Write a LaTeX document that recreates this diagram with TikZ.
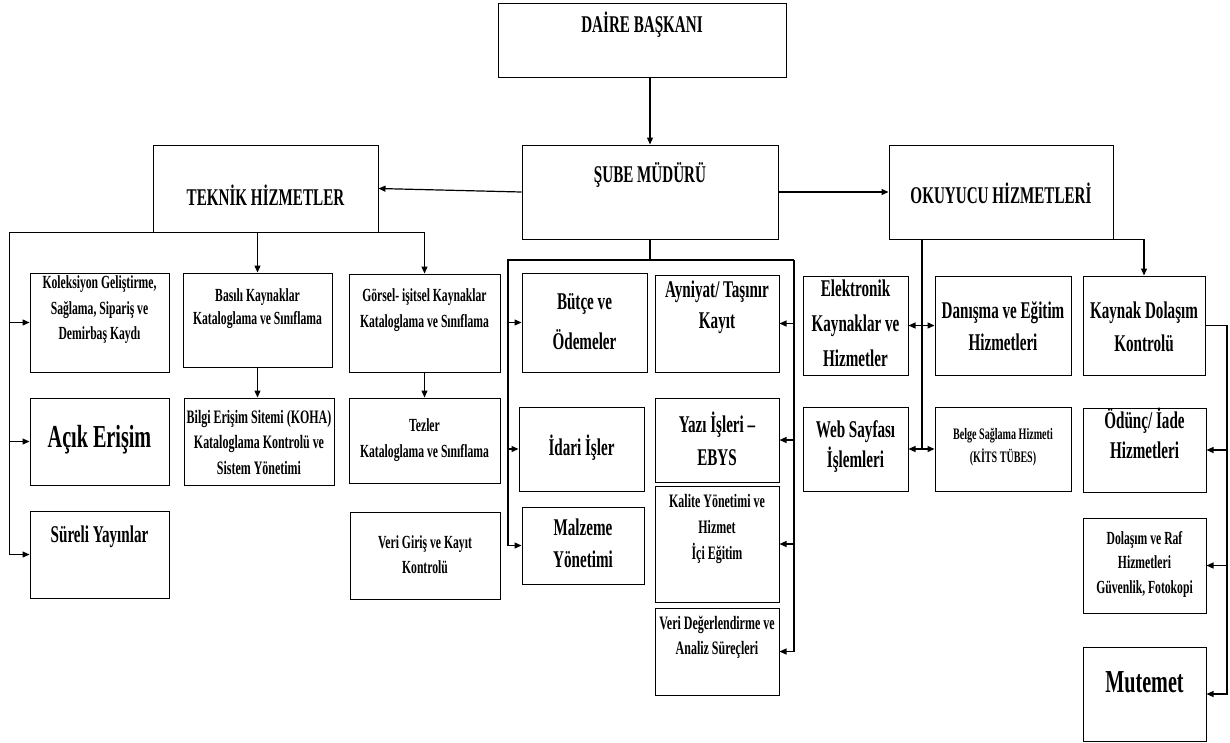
\documentclass[tikz,border=0pt]{standalone}
\usepackage{fontspec}
\usetikzlibrary{arrows.meta}
\newfontfamily\tb{Liberation Serif}[FakeStretch=0.63,BoldFeatures={FakeStretch=0.63}]
\newcommand\fsz[2]{\tb\bfseries\fontsize{#1}{#2}\selectfont}
\newcommand\bx[5]{\node[box,minimum width={(#4-#2)*1pt},minimum height={(#5-#3)*1pt}] (#1) at ({(#2+#4)/2},{(#3+#5)/2}) {};}
\tikzset{
  box/.style={draw=black,line width=1pt,inner sep=0pt,fill=white},
  txt/.style={align=center,inner sep=0pt,text=black},
  ln/.style={draw=black,line width=1.2pt},
  arr/.style={ln,-{Triangle[length=7pt,width=6pt]}},
  darr/.style={ln,{Triangle[length=7pt,width=6pt]}-{Triangle[length=7pt,width=6pt]}}
}
\begin{document}
\begin{tikzpicture}[x=1pt,y=-1pt]
\useasboundingbox[fill=white] (0,0) rectangle (1230,742);
% boxes
\bx{daire}{498}{3}{786}{77}
\bx{sube}{522}{145}{778}{239}
\bx{teknik}{153}{145}{378}{232}
\bx{okuyucu}{889}{145}{1113}{239}
\bx{kol}{30}{273}{169}{372}
\bx{acik}{30}{398}{169}{485}
\bx{sureli}{30}{511}{169}{598}
\bx{basili}{183}{273}{332}{367}
\bx{bilgi}{184}{398}{334}{485}
\bx{gorsel}{349}{274}{500}{372}
\bx{tezler}{349}{398}{500}{483}
\bx{verigiris}{350}{512}{500}{599}
\bx{butce}{522}{273}{647}{372}
\bx{ayniyat}{655}{275}{779}{372}
\bx{idari}{519}{407}{644}{491}
\bx{malzeme}{522}{507}{644}{584}
\bx{yazi}{655}{398}{779}{482}
\bx{kalite}{655}{486}{779}{602}
\bx{veridegr}{655}{608}{779}{695}
\bx{elektronik}{803}{276}{908}{375}
\bx{danisma}{935}{276}{1071}{375}
\bx{kaynak}{1083}{276}{1205}{375}
\bx{web}{803}{407}{908}{491}
\bx{belge}{935}{407}{1071}{491}
\bx{odunc}{1083}{408}{1206}{492}
\bx{dolasim}{1083}{518}{1206}{613}
\bx{mutemet}{1083}{647}{1206}{741}
% texts
\node[txt,font=\fsz{24}{30}] (t-daire) at (642,25) {DAİRE BAŞKANI};
\node[txt,font=\fsz{24}{30}] (t-sube) at (650,175) {ŞUBE MÜDÜRÜ};
\node[txt,font=\fsz{24}{30}] (t-teknik) at (265.5,195) {TEKNİK HİZMETLER};
\node[txt,font=\fsz{24}{30}] (t-okuyucu) at (1001,193) {OKUYUCU HİZMETLERİ};
\node[txt,font=\fsz{18.5}{25.5}] (t-kol) at (99.5,310) {Koleksiyon Geliştirme,\\Sağlama, Sipariş ve\\Demirbaş Kaydı};
\node[txt,font=\fsz{32}{34}] (t-acik) at (99.5,440) {Açık Erişim};
\node[txt,font=\fsz{24}{30}] (t-sureli) at (99.5,537) {Süreli Yayınlar};
\node[txt,font=\fsz{18.5}{23.5}] (t-basili) at (257.5,308.5) {Basılı Kaynaklar\\Kataloglama ve Sınıflama};
\node[txt,font=\fsz{19}{25.5}] (t-bilgi) at (259,442) {Bilgi Erişim Sitemi (KOHA)\\Kataloglama Kontrolü ve\\Sistem Yönetimi};
\node[txt,font=\fsz{18.5}{26}] (t-gorsel) at (424.5,310) {Görsel- işitsel Kaynaklar\\Kataloglama ve Sınıflama};
\node[txt,font=\fsz{18.5}{26}] (t-tezler) at (424.5,440) {Tezler\\Kataloglama ve Sınıflama};
\node[txt,font=\fsz{18.5}{25}] (t-verigiris) at (425,554.5) {Veri Giriş ve Kayıt\\Kontrolü};
\node[txt,font=\fsz{24}{40}] (t-butce) at (584.5,322) {Bütçe ve\\Ödemeler};
\node[txt,font=\fsz{24}{31}] (t-ayniyat) at (717,307.5) {Ayniyat/ Taşınır\\Kayıt};
\node[txt,font=\fsz{24}{30}] (t-idari) at (581.5,448) {İdari İşler};
\node[txt,font=\fsz{24}{32}] (t-malzeme) at (583,543) {Malzeme\\Yönetimi};
\node[txt,font=\fsz{24}{33}] (t-yazi) at (717,438.5) {Yazı İşleri –\\EBYS};
\node[txt,font=\fsz{19}{26}] (t-kalite) at (717,529) {Kalite Yönetimi ve\\Hizmet\\İçi Eğitim};
\node[txt,font=\fsz{19}{25}] (t-veridegr) at (717,637.5) {Veri Değerlendirme ve\\Analiz Süreçleri};
\node[txt,font=\fsz{24}{35}] (t-elektronik) at (855.5,323) {Elektronik\\Kaynaklar ve\\Hizmetler};
\node[txt,font=\fsz{24}{32}] (t-danisma) at (1003,326) {Danışma ve Eğitim\\Hizmetleri};
\node[txt,font=\fsz{24}{33}] (t-kaynak) at (1144,326.5) {Kaynak Dolaşım\\Kontrolü};
\node[txt,font=\fsz{24}{30}] (t-web) at (855.5,447) {Web Sayfası\\İşlemleri};
\node[txt,font=\fsz{16}{23}] (t-belge) at (1003,447.5) {Belge Sağlama Hizmeti\\(KİTS TÜBES)};
\node[txt,font=\fsz{24}{30}] (t-odunc) at (1144.5,433) {Ödünç/ İade\\Hizmetleri};
\node[txt,font=\fsz{18.5}{24.5}] (t-dolasim) at (1144.5,564) {Dolaşım ve Raf\\Hizmetleri\\Güvenlik, Fotokopi};
\node[txt,font=\fsz{32}{34}] (t-mutemet) at (1144.5,682) {Mutemet};
% coordinates for free ends
\coordinate (ml) at (508,260);
\coordinate (mr) at (794,260);
\coordinate (ov) at (922,260);
\coordinate (kr) at (1227,324);
% connectors
\draw[arr] (daire.south -| sube.north) -- (sube.north);
\draw[arr] (sube.west) -- (teknik.east);
\draw[arr] (sube.east) -- (okuyucu.west);
% teknik
\draw[arr] (teknik.south west) -| ([xshift=-20pt]sureli.west) -- (sureli.west);
\draw[arr] ([xshift=-20pt]kol.west) -- (kol.west);
\draw[arr] ([xshift=-20pt]acik.west) -- (acik.west);
\draw[arr] (teknik.south -| basili.north) -- (basili.north);
\draw[arr] (basili.south) -- (basili.south |- bilgi.north);
\draw[arr] (teknik.south east) -| (gorsel.north);
\draw[arr] (gorsel.south) -- (tezler.north);
% sube middle
\draw[ln] (sube.south) -- (sube.south |- ml);
\draw[arr] (mr) -- (ml) |- (malzeme.west);
\draw[arr] (ml |- butce.west) -- (butce.west);
\draw[arr] (ml |- idari.west) -- (idari.west);
\draw[arr] (mr) |- (veridegr.east);
\draw[arr] (mr |- ayniyat.east) -- (ayniyat.east);
\draw[arr] (mr |- yazi.east) -- (yazi.east);
\draw[arr] (mr |- kalite.east) -- (kalite.east);
% okuyucu
\draw[ln] (okuyucu.south -| ov) -- (ov |- web.east);
\draw[darr] (elektronik.east) -- (danisma.west);
\draw[darr] (web.east) -- (belge.west);
\draw[arr] (okuyucu.south east) -| (kaynak.north);
\draw[arr] (kaynak.east) -| (kr |- mutemet.east) -- (mutemet.east);
\draw[arr] (kr |- odunc.east) -- (odunc.east);
\draw[arr] (kr |- dolasim.east) -- (dolasim.east);
\end{tikzpicture}
\end{document}
